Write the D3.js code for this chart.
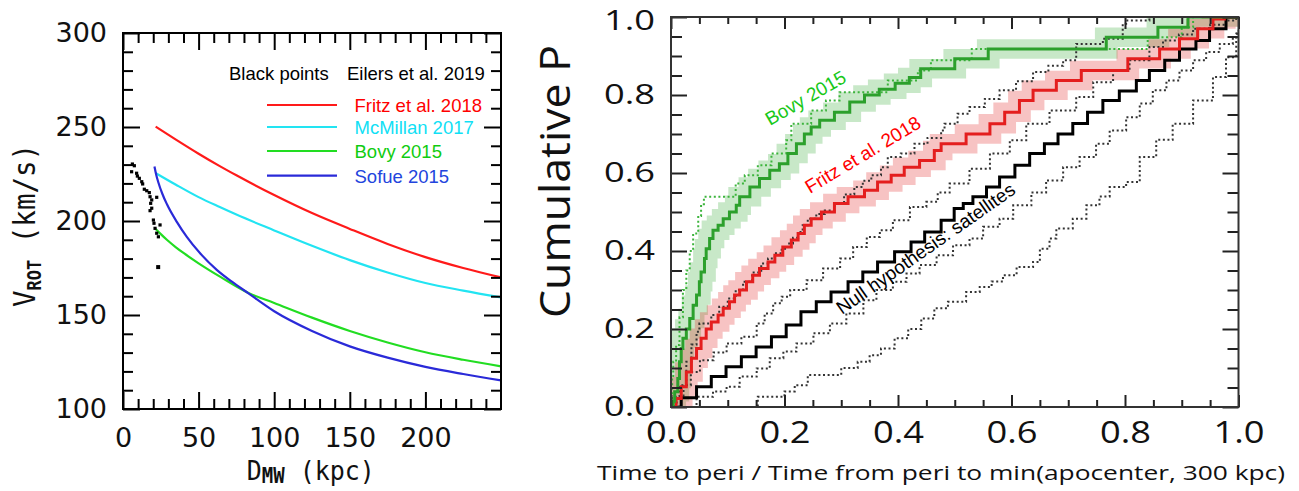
<!DOCTYPE html>
<html><head><meta charset="utf-8">
<script src="https://cdn.jsdelivr.net/npm/d3@7"></script>
<style>body{margin:0;background:#fff}</style>
</head><body>
<svg id="c" width="1299" height="491"></svg>
<script>
// ---------------- LEFT PANEL DATA ----------------
const eilersD = [6.2,7.5,5.7,9.0,9.5,10.8,12.4,13.0,14.1,15.7,17.4,17.9,19.0,18.3,19.0,17.9,22.3,20.1,20.5,21.2,22.3,24.5,23.4,23.0];
const eilersV = [230.3,229.4,226.2,225.4,223.9,222.7,220.9,219.7,216.9,216.1,215.1,212.9,211.2,209.4,206.8,205.5,212.6,200.5,198.8,196.1,193.5,197.9,191.6,175.7];

const fritzD = [21.6,35,50,64,75,100,125,150,175,200,225,250];
const fritzV = [250.2,243.3,235.8,229.2,224.3,213.8,204.2,195.8,187.8,180.8,175,170];
const mcmD = [21.6,35,50,64,75,100,125,150,175,200,225,250];
const mcmV = [225.5,219.3,212.7,207.4,203.4,195,186.8,179.2,172.6,167,163,159.4];
const bovyD = [21.6,25,29,35,40,50,65,83,100,125,150,175,200,225,250];
const bovyV = [195.7,193,190,186,183,177.5,170,161.7,156.4,148.6,141.5,135.4,130.2,126.2,122.7];
const sofueD = [20.8,22,23.4,26,29,35.6,42.2,51,62,72,83,100,125,150,175,200,225,250];
const sofueV = [229,224.5,220.5,214.5,209,199.5,191.5,182.8,174,167.7,161.5,152,141.5,133.3,127.3,122.4,118.6,115.2];

const leftMajorX = [0,50,100,150,200];
const leftMinorX = [10,20,30,40,60,70,80,90,110,120,130,140,160,170,180,190,210,220,230,240];
const leftMajorY = [100,150,200,250,300];
const leftMinorY = [110,120,130,140,160,170,180,190,210,220,230,240,260,270,280,290];

const legendNames = ["Fritz et al. 2018","McMillan 2017","Bovy 2015","Sofue 2015"];

// ---------------- RIGHT PANEL DATA ----------------
const nullT = [0,0.018,0.045,0.071,0.097,0.124,0.15,0.177,0.203,0.229,0.256,0.282,0.312,0.338,0.364,0.394,0.423,0.447,0.476,0.499,0.515,0.532,0.556,0.579,0.606,0.632,0.658,0.682,0.708,0.734,0.761,0.79,0.82,0.843,0.87,0.896,0.925,0.949,0.978];
const nullP = [0,0.024,0.052,0.078,0.103,0.129,0.154,0.18,0.21,0.244,0.27,0.295,0.321,0.346,0.372,0.398,0.423,0.449,0.479,0.509,0.522,0.539,0.564,0.59,0.62,0.65,0.675,0.70,0.727,0.756,0.786,0.81,0.837,0.863,0.889,0.918,0.94,0.97,1.0];

const fritzT = [0,0.009,0.018,0.027,0.036,0.045,0.053,0.062,0.071,0.083,0.092,0.103,0.112,0.121,0.133,0.144,0.156,0.171,0.183,0.197,0.212,0.224,0.235,0.247,0.265,0.288,0.312,0.341,0.364,0.388,0.411,0.438,0.464,0.476,0.52,0.562,0.588,0.614,0.638,0.679,0.723,0.805,0.861,0.896,0.928,0.955,0.975];
const fritzP = [0,0.022,0.052,0.09,0.125,0.15,0.176,0.2,0.218,0.236,0.253,0.27,0.287,0.3,0.321,0.338,0.355,0.372,0.389,0.41,0.428,0.445,0.466,0.483,0.5,0.522,0.539,0.556,0.577,0.594,0.615,0.632,0.658,0.675,0.70,0.726,0.756,0.786,0.812,0.837,0.863,0.893,0.918,0.944,0.97,0.995,1.0];

const bovyT = [0,0.004,0.0065,0.012,0.015,0.018,0.021,0.027,0.033,0.039,0.045,0.05,0.053,0.059,0.062,0.068,0.074,0.083,0.092,0.103,0.115,0.121,0.139,0.156,0.174,0.191,0.206,0.221,0.235,0.247,0.262,0.288,0.315,0.341,0.367,0.395,0.42,0.44,0.5,0.559,0.767,0.858,0.911];
const bovyP = [0,0.015,0.039,0.073,0.116,0.15,0.176,0.2,0.227,0.261,0.287,0.321,0.346,0.381,0.406,0.432,0.453,0.466,0.483,0.5,0.517,0.539,0.564,0.586,0.607,0.624,0.65,0.675,0.7,0.718,0.735,0.756,0.782,0.80,0.815,0.83,0.845,0.867,0.893,0.918,0.948,0.974,1.0];

const bovyDotT = [0,0.002,0.004,0.009,0.015,0.021,0.027,0.033,0.039,0.048,0.053,0.058,0.114,0.13,0.153,0.177,0.203,0.212,0.247,0.273,0.297,0.382,0.435,0.458,0.53,0.84,0.9,0.92];
const bovyDotP = [0,0.073,0.116,0.159,0.23,0.30,0.35,0.40,0.445,0.49,0.52,0.539,0.573,0.594,0.62,0.65,0.684,0.726,0.76,0.786,0.807,0.837,0.863,0.889,0.918,0.948,0.974,1.0];

const du1T = [0,0.008,0.015,0.027,0.036,0.045,0.05,0.071,0.085,0.1,0.114,0.127,0.143,0.159,0.171,0.183,0.195,0.206,0.215,0.224,0.232,0.241,0.256,0.271,0.288,0.305,0.323,0.338,0.353,0.37,0.382,0.405,0.429,0.452,0.476,0.482,0.505,0.526,0.553,0.579,0.608,0.638,0.665,0.691,0.714,0.761,0.796,0.802,0.843];
const du1P = [0,0.026,0.056,0.116,0.16,0.193,0.214,0.236,0.257,0.278,0.3,0.321,0.345,0.368,0.381,0.394,0.406,0.419,0.434,0.449,0.466,0.483,0.495,0.504,0.522,0.545,0.564,0.58,0.594,0.615,0.641,0.65,0.675,0.69,0.709,0.726,0.752,0.769,0.79,0.812,0.835,0.859,0.875,0.889,0.931,0.944,0.983,0.991,1.0];

const du2T = [0,0.01,0.022,0.035,0.051,0.075,0.098,0.124,0.151,0.165,0.18,0.195,0.21,0.239,0.268,0.298,0.321,0.345,0.368,0.391,0.421,0.45,0.47,0.491,0.526,0.562,0.597,0.626,0.667,0.714,0.744,0.779,0.808,0.843,0.867,0.895,0.92,0.95,0.978,0.996];
const du2P = [0,0.026,0.056,0.09,0.12,0.14,0.163,0.18,0.214,0.24,0.266,0.283,0.3,0.325,0.355,0.381,0.41,0.436,0.453,0.479,0.513,0.526,0.55,0.573,0.611,0.65,0.684,0.726,0.76,0.795,0.833,0.863,0.889,0.923,0.94,0.955,0.97,0.98,0.991,1.0];

const dl1T = [0,0.045,0.074,0.098,0.121,0.151,0.174,0.198,0.221,0.251,0.28,0.309,0.339,0.362,0.391,0.415,0.438,0.468,0.497,0.526,0.55,0.579,0.603,0.635,0.661,0.691,0.72,0.749,0.773,0.802,0.826,0.849,0.873,0.896,0.92,0.943,0.967,0.99,0.997];
const dl1P = [0,0.026,0.04,0.052,0.078,0.099,0.125,0.142,0.163,0.189,0.214,0.24,0.274,0.3,0.321,0.342,0.364,0.389,0.415,0.432,0.462,0.483,0.517,0.55,0.581,0.615,0.641,0.675,0.709,0.743,0.778,0.812,0.837,0.863,0.889,0.91,0.931,0.948,0.965];

const dl2T = [0,0.153,0.2,0.218,0.241,0.3,0.329,0.35,0.37,0.394,0.418,0.441,0.464,0.488,0.52,0.544,0.565,0.585,0.609,0.638,0.65,0.667,0.679,0.708,0.732,0.755,0.773,0.802,0.826,0.855,0.884,0.92,0.955,0.978,0.996];
const dl2P = [0,0.026,0.04,0.056,0.082,0.1,0.116,0.133,0.15,0.176,0.2,0.227,0.253,0.27,0.295,0.308,0.322,0.338,0.359,0.372,0.406,0.432,0.458,0.483,0.517,0.54,0.564,0.577,0.641,0.685,0.726,0.786,0.846,0.897,0.957];

const rightMajor = [0,0.2,0.4,0.6,0.8,1.0];
const rightMinor = [0.05,0.1,0.15,0.25,0.3,0.35,0.45,0.5,0.55,0.65,0.7,0.75,0.85,0.9,0.95];

// ---------------- DRAWING ----------------
const svg = d3.select("#c");

// ===== Left panel =====
const xL = d3.scaleLinear().domain([0,250]).range([123,501]);
const yL = d3.scaleLinear().domain([100,300]).range([409,33]);
const gL = svg.append("g");

const lineL = d3.line().x(d=>xL(d[0])).y(d=>yL(d[1])).curve(d3.curveMonotoneX);
const curves = [
  {d:fritzD, v:fritzV, c:"#ff1a1a"},
  {d:mcmD, v:mcmV, c:"#22e4f2"},
  {d:bovyD, v:bovyV, c:"#22dd22"},
  {d:sofueD, v:sofueV, c:"#2a2ad8"}
];
curves.forEach(cv => {
  gL.append("path").attr("d", lineL(cv.d.map((x,i)=>[x,cv.v[i]])))
    .attr("fill","none").attr("stroke",cv.c).attr("stroke-width",2.2);
});
gL.selectAll("rect.pt").data(eilersD.map((x,i)=>[x,eilersV[i]])).join("rect")
  .attr("class","pt")
  .attr("x",d=>xL(d[0])-1.6).attr("y",d=>yL(d[1])-1.6)
  .attr("width",(d,i)=> i===eilersD.length-1?4:3.2).attr("height",(d,i)=> i===eilersD.length-1?4:3.2)
  .attr("fill","#000");

function styleAxis(g, w, col){ g.select(".domain").remove(); g.selectAll(".tick line").attr("stroke",col||"#000").attr("stroke-width",w); }
// left axes
const lf = "DejaVu Sans";
let a;
a = gL.append("g").attr("transform","translate(0,409)").call(d3.axisBottom(xL).tickValues(leftMajorX).tickSize(-17).tickPadding(19));
styleAxis(a,2); a.selectAll("text").attr("font-family",lf).attr("font-size",27).attr("fill","#111");
a = gL.append("g").attr("transform","translate(0,409)").call(d3.axisBottom(xL).tickValues(leftMinorX).tickSize(-10).tickFormat(""));
styleAxis(a,2);
a = gL.append("g").attr("transform","translate(0,33)").call(d3.axisTop(xL).tickValues(leftMajorX).tickSize(-17).tickFormat(""));
styleAxis(a,2);
a = gL.append("g").attr("transform","translate(0,33)").call(d3.axisTop(xL).tickValues(leftMinorX).tickSize(-10).tickFormat(""));
styleAxis(a,2);
a = gL.append("g").attr("transform","translate(123,0)").call(d3.axisLeft(yL).tickValues(leftMajorY).tickSize(-17).tickPadding(16));
styleAxis(a,2); a.selectAll("text").attr("font-family",lf).attr("font-size",27).attr("fill","#111");
a = gL.append("g").attr("transform","translate(123,0)").call(d3.axisLeft(yL).tickValues(leftMinorY).tickSize(-10).tickFormat(""));
styleAxis(a,2);
a = gL.append("g").attr("transform","translate(501,0)").call(d3.axisRight(yL).tickValues(leftMajorY).tickSize(-17).tickFormat(""));
styleAxis(a,2);
a = gL.append("g").attr("transform","translate(501,0)").call(d3.axisRight(yL).tickValues(leftMinorY).tickSize(-10).tickFormat(""));
styleAxis(a,2);
gL.append("rect").attr("x",123).attr("y",33).attr("width",378).attr("height",376)
  .attr("fill","none").attr("stroke","#000").attr("stroke-width",2);

// left legend
gL.append("text").attr("x",229).attr("y",80).text("Black points")
  .attr("font-family","Liberation Sans").attr("font-size",18.5).attr("fill","#000");
gL.append("text").attr("x",347).attr("y",80).text("Eilers et al. 2019")
  .attr("font-family","Liberation Sans").attr("font-size",18.5).attr("fill","#000");
const legY = [105,127,151,175.7];
const legBase = [111.7,134,157.7,182.7];
const legTextCol = ["#ff0000","#10e0f5","#10cc10","#2244dd"];
legendNames.forEach((n,i)=>{
  gL.append("line").attr("x1",267).attr("x2",337).attr("y1",legY[i]).attr("y2",legY[i])
    .attr("stroke",curves[i].c).attr("stroke-width",2.2);
  gL.append("text").attr("x",354.5).attr("y",legBase[i]).text(n)
    .attr("font-family","Liberation Sans").attr("font-size",18.5).attr("fill",legTextCol[i]);
});

// left axis titles
const mono = "DejaVu Sans Mono";
const yt = gL.append("text").attr("transform","translate(35,307) rotate(-90) scale(1,1.1)")
  .attr("font-family",mono).attr("fill","#111").attr("font-size",27.5);
yt.append("tspan").text("V");
yt.append("tspan").text("ROT").attr("font-size",17).attr("dy",5).attr("font-weight","bold");
yt.append("tspan").text(" (km/s)").attr("dy",-5);
const xt = gL.append("text").attr("transform","translate(246.7,480) scale(1,1.08)")
  .attr("font-family",mono).attr("fill","#111").attr("font-size",25);
xt.append("tspan").text("D");
xt.append("tspan").text("MW").attr("font-size",19).attr("dy",3).attr("font-weight","bold");
xt.append("tspan").text(" (kpc)").attr("dy",-3);

// ===== Right panel =====
const xR = d3.scaleLinear().domain([0,1]).range([671,1238.5]);
const yR = d3.scaleLinear().domain([0,1]).range([407,17]);
const gR = svg.append("g");
svg.append("defs").append("clipPath").attr("id","clipR").append("rect")
  .attr("x",671).attr("y",17).attr("width",567.5).attr("height",390);
const plot = gR.append("g").attr("clip-path","url(#clipR)");

function stepPts(ts, ps){
  const pts = ts.map((t,i)=>[t,ps[i]]);
  const last = pts[pts.length-1];
  if (last[0] < 1) pts.push([1.05,last[1]]);
  return pts;
}
const stepLine = d3.line().x(d=>xR(d[0])).y(d=>yR(d[1])).curve(d3.curveStepAfter);
const dT = 0.02, dP = 0.025;
const bandArea = d3.area().curve(d3.curveStepAfter)
  .x1(d=>xR(d[0]-dT)).y1(d=>yR(Math.min(1,d[1]+dP)))
  .x0(d=>xR(d[0]+dT)).y0(d=>yR(Math.max(0,d[1]-dP)));

plot.append("path").attr("d",bandArea(stepPts(bovyT,bovyP))).attr("fill","rgba(44,165,44,0.26)");
plot.append("path").attr("d",bandArea(stepPts(fritzT,fritzP))).attr("fill","rgba(228,40,40,0.28)");

[[du1T,du1P],[du2T,du2P],[dl1T,dl1P],[dl2T,dl2P]].forEach(s=>{
  plot.append("path").attr("d",stepLine(stepPts(s[0],s[1]))).attr("fill","none")
    .attr("stroke","#333").attr("stroke-width",2).attr("stroke-dasharray","2,2.6");
});
plot.append("path").attr("d",stepLine(stepPts(bovyDotT,bovyDotP))).attr("fill","none")
  .attr("stroke","#3cb43c").attr("stroke-width",2).attr("stroke-dasharray","2,2.6");

plot.append("path").attr("d",stepLine(stepPts(nullT,nullP))).attr("fill","none")
  .attr("stroke","#000").attr("stroke-width",3);
plot.append("path").attr("d",stepLine(stepPts(fritzT,fritzP))).attr("fill","none")
  .attr("stroke","#e41e1e").attr("stroke-width",3);
plot.append("path").attr("d",stepLine(stepPts(bovyT,bovyP))).attr("fill","none")
  .attr("stroke","#2ca02c").attr("stroke-width",3);

// right axes
const rf = "Open Sans";
const fmt = d3.format(".1f");
a = gR.append("g").attr("transform","translate(0,407)").call(d3.axisBottom(xR).tickValues(rightMajor).tickSize(-12).tickPadding(14).tickFormat(fmt));
styleAxis(a,2,"#222"); a.selectAll("text").attr("font-family",rf).attr("font-size",31).attr("fill","#111")
  .attr("textLength",51).attr("lengthAdjust","spacingAndGlyphs");
a = gR.append("g").attr("transform","translate(0,407)").call(d3.axisBottom(xR).tickValues(rightMinor).tickSize(-7).tickFormat(""));
styleAxis(a,2,"#222");
a = gR.append("g").attr("transform","translate(0,17)").call(d3.axisTop(xR).tickValues(rightMajor).tickSize(-12).tickFormat(""));
styleAxis(a,2,"#222");
a = gR.append("g").attr("transform","translate(0,17)").call(d3.axisTop(xR).tickValues(rightMinor).tickSize(-7).tickFormat(""));
styleAxis(a,2,"#222");
a = gR.append("g").attr("transform","translate(671,0)").call(d3.axisLeft(yR).tickValues(rightMajor).tickSize(-16).tickPadding(16).tickFormat(fmt));
styleAxis(a,2,"#222"); a.selectAll("text").attr("font-family",rf).attr("font-size",28).attr("fill","#111")
  .attr("textLength",51).attr("lengthAdjust","spacingAndGlyphs");
a.selectAll(".tick").filter(d=>d===1).select("text").attr("y",4);
a = gR.append("g").attr("transform","translate(671,0)").call(d3.axisLeft(yR).tickValues(rightMinor).tickSize(-11).tickFormat(""));
styleAxis(a,2,"#222");
a = gR.append("g").attr("transform","translate(1238.5,0)").call(d3.axisRight(yR).tickValues(rightMajor).tickSize(-16).tickFormat(""));
styleAxis(a,2,"#222");
a = gR.append("g").attr("transform","translate(1238.5,0)").call(d3.axisRight(yR).tickValues(rightMinor).tickSize(-11).tickFormat(""));
styleAxis(a,2,"#222");
gR.append("rect").attr("x",671).attr("y",17).attr("width",567.5).attr("height",390)
  .attr("fill","none").attr("stroke","#333").attr("stroke-width",2);

// right annotations
gR.append("text").attr("transform","translate(770,126) rotate(-30)").text("Bovy 2015")
  .attr("font-family","Liberation Sans").attr("font-size",19).attr("fill","#18c818");
gR.append("text").attr("transform","translate(810,194) rotate(-31)").text("Fritz et al. 2018")
  .attr("font-family","Liberation Sans").attr("font-size",19).attr("fill","#ff0000");
gR.append("text").attr("transform","translate(842,315) rotate(-35)").text("Null hypothesis: satellites")
  .attr("font-family","Liberation Sans").attr("font-size",19).attr("fill","#000");

gR.append("text").attr("transform","translate(570,318) rotate(-90)").text("Cumulative P")
  .attr("font-family",rf).attr("font-size",42).attr("fill","#111")
  .attr("textLength",273).attr("lengthAdjust","spacingAndGlyphs");
gR.append("text").attr("x",597).attr("y",480).text("Time to peri / Time from peri to min(apocenter, 300 kpc)")
  .attr("font-family",rf).attr("font-size",20).attr("fill","#111")
  .attr("textLength",688).attr("lengthAdjust","spacingAndGlyphs");
</script>
</body></html>
